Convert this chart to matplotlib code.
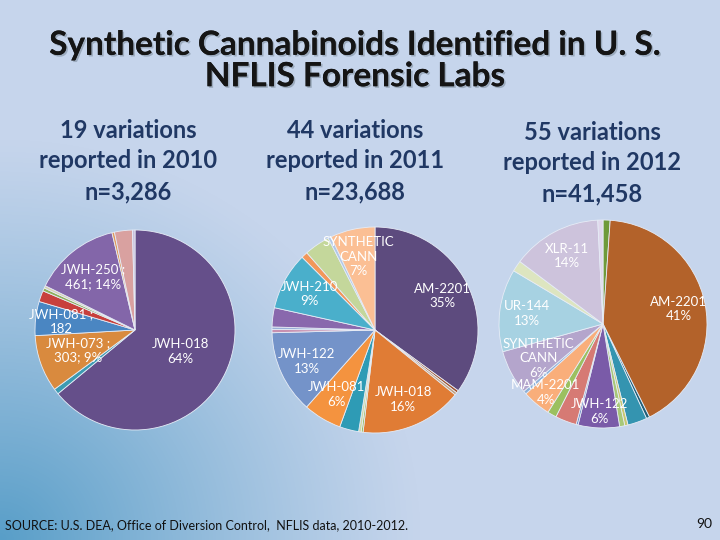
import numpy as np
import matplotlib
matplotlib.use("Agg")
from matplotlib import pyplot as plt
from matplotlib import patheffects as pe


FONT = ["Lato", "DejaVu Sans"]

# 2010, clockwise from 12 o'clock
share_2010 = [64.0, 0.9, 9.2, 5.5, 1.8, 0.5, 0.4, 14.0, 0.4, 2.9, 0.4]
text_2010 = ["JWH-018\n64%", "", "JWH-073 ;\n303; 9%", "JWH-081 ;\n182",
             "", "", "", "JWH-250 ;\n461; 14%", "", "", ""]
colors_2010 = ["#654f8a", "#3c9bb2", "#d98a3e", "#4a86c2", "#c8403c",
               "#8fb05a", "#d8d0b0", "#8366a9", "#e09a5c", "#d9a1a0",
               "#c8c0dc"]

# 2011
share_2011 = [35.0, 0.4, 0.4, 16.0, 0.3, 0.4, 3.0, 6.0, 13.0, 0.5, 0.4,
              3.0, 9.0, 1.0, 4.0, 0.5, 7.0]
text_2011 = ["AM-2201\n35%", "", "", "JWH-018\n16%", "", "", "",
             "JWH-081\n6%", "JWH-122\n13%", "", "", "", "JWH-210\n9%",
             "", "", "", "SYNTHETIC\nCANN\n7%"]
colors_2011 = ["#5d4b7e", "#a0522d", "#c0a080", "#e07c35", "#9bbb59",
               "#d0d8a0", "#2e9bb5", "#f4933f", "#7493c9", "#c890b0",
               "#9ab0d8", "#8968ad", "#4aafcb", "#f2975a", "#c4d79b",
               "#b0c8e8", "#fbbf94"]

# 2012
share_2012 = [1.1, 41.4, 0.5, 3.0, 0.5, 0.8, 6.4, 0.3, 3.3, 1.4, 4.4, 0.5,
              6.9, 12.8, 1.7, 13.9, 0.8]
text_2012 = ["", "AM-2201\n41%", "", "", "", "", "JWH-122\n6%", "", "", "",
             "MAM-2201\n4%", "", "SYNTHETIC\nCANN\n6%", "UR-144\n13%", "",
             "XLR-11\n14%", ""]
colors_2012 = ["#6f9a3a", "#b3622a", "#205f78", "#3494b0", "#c8c870",
               "#a8c878", "#7a5ba8", "#6d8cc8", "#d67a74", "#9bc060",
               "#f9ae7a", "#8cb0d8", "#b4a5cc", "#a7d2e2", "#dde5c0",
               "#cdc3dc", "#e0d8ec"]

headers = ["19 variations\nreported in 2010\nn=3,286",
           "44 variations\nreported in 2011\nn=23,688",
           "55 variations\nreported in 2012\nn=41,458"]

title = "Synthetic Cannabinoids Identified in U. S.\nNFLIS Forensic Labs"
source = "SOURCE: U.S. DEA, Office of Diversion Control,  NFLIS data, 2010-2012."


fig = plt.figure(figsize=(7.2, 5.4), dpi=100)

# background gradient, darker blue toward the lower left corner
bg = fig.add_axes([0, 0, 1, 1])
yy, xx = np.mgrid[0:540, 0:720]
t = np.clip(1 - np.sqrt((xx / 420.0) ** 2 + ((539 - yy) / 400.0) ** 2), 0, 1)
t = t ** 1.15
base = np.array([198, 213, 236]) / 255.0
dark = np.array([88, 158, 200]) / 255.0
img = base[None, None, :] + (dark - base)[None, None, :] * t[..., None]
bg.imshow(img, origin="upper", extent=[0, 720, 540, 0], aspect="auto")
bg.set_axis_off()

ax = fig.add_axes([0, 0, 1, 1])
ax.patch.set_alpha(0)

# label distance (fraction of radius) for each slice
dist_2010 = [0.5, 0, 0.6, 0.74, 0, 0, 0, 0.68, 0, 0, 0]
dist_2011 = [0.73] * len(share_2011)
dist_2012 = [0.74] * len(share_2012)
dist_2012[6] = 0.84
dist_2012[10] = 0.86
dist_2012[12] = 0.7

pies = [
    (share_2010, text_2010, colors_2010, dist_2010, (135, 540 - 330), 100),
    (share_2011, text_2011, colors_2011, dist_2011, (375, 540 - 330), 103),
    (share_2012, text_2012, colors_2012, dist_2012, (603, 540 - 324), 104),
]

for share, text, colors, dist, center, radius in pies:
    wedges, _ = ax.pie(share, colors=colors, startangle=90, counterclock=False,
                       center=center, radius=radius,
                       wedgeprops={"linewidth": 0.6, "edgecolor": "#e6ecf6"})
    for w, label, d in zip(wedges, text, dist):
        if not label:
            continue
        ang = np.deg2rad(0.5 * (w.theta1 + w.theta2))
        x = center[0] + d * radius * np.cos(ang)
        y = center[1] + d * radius * np.sin(ang)
        ax.text(x, y, label, ha="center", va="center", color="white",
                fontsize=9.5, family=FONT, linespacing=1.25)

ax.set_xlim(0, 720)
ax.set_ylim(0, 540)
ax.set_axis_off()

shadow = [pe.withSimplePatchShadow(offset=(1.2, -1.2), shadow_rgbFace="#8090a0",
                                   alpha=0.6), pe.Normal()]

ax.text(355, 540 - 61, title, ha="center", va="center", fontsize=24,
        fontweight="bold", color="#151515", family=FONT, linespacing=1.1,
        path_effects=shadow)

for x, y, h in zip([128, 355, 592], [540 - 161, 540 - 161, 540 - 163], headers):
    ax.text(x, y, h, ha="center", va="center", fontsize=17,
            fontweight="bold", color="#203864", family=FONT,
            linespacing=1.4)

ax.text(5, 540 - 525, source, ha="left", va="center", fontsize=9,
        color="#111111", family=FONT)
ax.text(712, 540 - 524, "90", ha="right", va="center", fontsize=10,
        color="#111111", family=FONT)

fig.savefig("out.png", dpi=100)
